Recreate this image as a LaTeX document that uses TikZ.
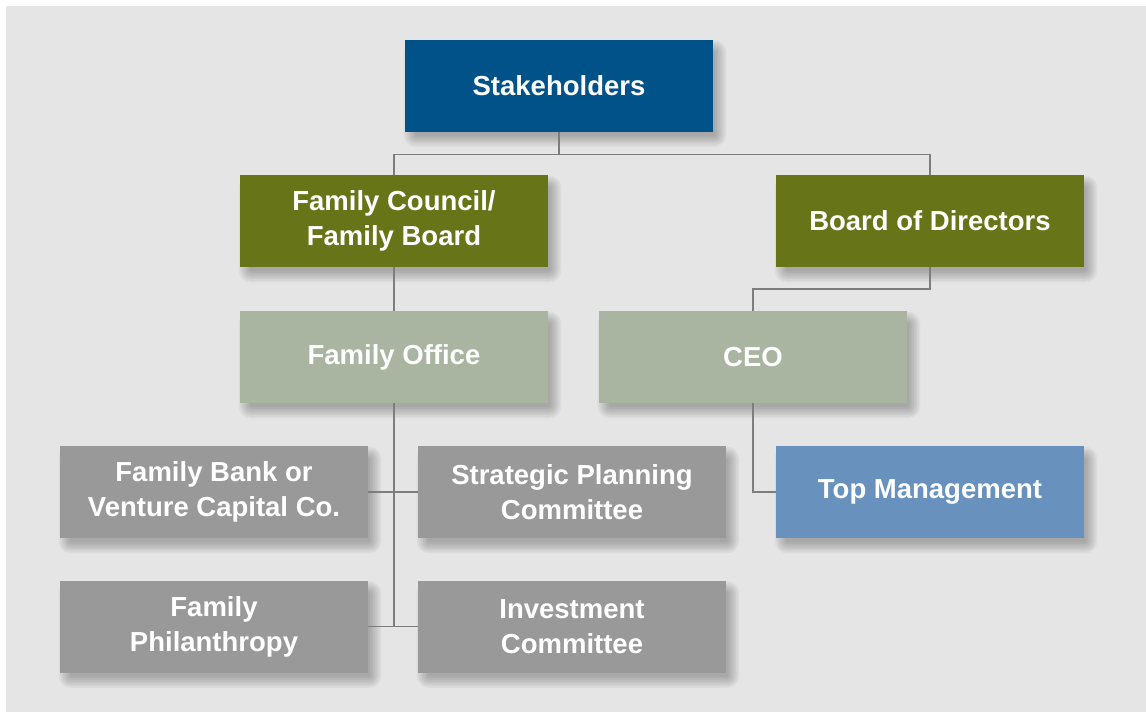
\documentclass[tikz,border=0pt]{standalone}
\usepackage{fontspec}
\setmainfont{Liberation Sans}
\usetikzlibrary{calc}
\definecolor{bg}{RGB}{229,229,229}
\definecolor{navy}{RGB}{0,82,137}
\definecolor{olive}{RGB}{103,117,24}
\definecolor{sage}{RGB}{169,181,160}
\definecolor{boxgray}{RGB}{153,153,153}
\definecolor{steel}{RGB}{104,145,189}
\definecolor{linegray}{RGB}{125,125,125}
\pgfdeclarelayer{bglayer}
\pgfdeclarelayer{shadowlayer}
\pgfsetlayers{bglayer,shadowlayer,main}
\tikzset{
  box/.style={rectangle, minimum width=308pt, minimum height=92pt, inner sep=0pt,
    text=white, align=center, font=\fontsize{27.5}{35}\selectfont\bfseries},
  conn/.style={draw=linegray, line width=1.5pt},
  shadowpiece/.style={fill=black, opacity=0.035}
}
\begin{document}
\begin{tikzpicture}[x=1pt,y=-1pt]
\useasboundingbox (0,0) rectangle (1146,712);
\begin{pgfonlayer}{bglayer}
\fill[white] (0,0) rectangle (1146,712);
\fill[bg] (6,6) rectangle (1146,712);
\end{pgfonlayer}
\node[box, fill=navy] (stake) at (559,85.5) {Stakeholders};
\node[box, fill=olive] (fc) at (394,221) {Family Council/\\Family Board};
\node[box, fill=olive] (bod) at (930,221) {Board of Directors};
\node[box, fill=sage] (fo) at (394,357) {Family Office};
\node[box, fill=sage] (ceo) at (753,357) {CEO};
\node[box, fill=boxgray] (bank) at (214,492) {Family Bank or\\Venture Capital Co.};
\node[box, fill=boxgray] (spc) at (572,492) {Strategic Planning\\Committee};
\node[box, fill=steel] (top) at (930,492) {Top Management};
\node[box, fill=boxgray] (phil) at (214,626.5) {Family\\Philanthropy};
\node[box, fill=boxgray] (inv) at (572,626.5) {Investment\\Committee};
\begin{pgfonlayer}{shadowlayer}
\foreach \n in {stake,fc,bod,fo,ceo,bank,spc,top,phil,inv}{
  \foreach \k in {0,...,7}{
    \pgfmathsetmacro{\d}{\k*1.6}
    \pgfmathsetmacro{\r}{\k*1.6+1}
    \fill[shadowpiece, rounded corners=\r pt]
      ($(\n.north west)+(10-\d,12-\d)$) rectangle ($(\n.south east)+(2+\d,4+\d)$);
  }
}
\end{pgfonlayer}
\draw[conn] (stake.south) -- ++(0,23) -| (fc.north);
\draw[conn] (stake.south) ++(0,23) -| (bod.north);
\draw[conn] (fc.south) -- (fo.north);
\draw[conn] (bod.south) -- ++(0,22) -| (ceo.north);
\draw[conn] (fo.south) -- (fo.south |- inv.west);
\draw[conn] (bank.east) -- (spc.west);
\draw[conn] (phil.east) -- (inv.west);
\draw[conn] (ceo.south) |- (top.west);
\end{tikzpicture}
\end{document}
